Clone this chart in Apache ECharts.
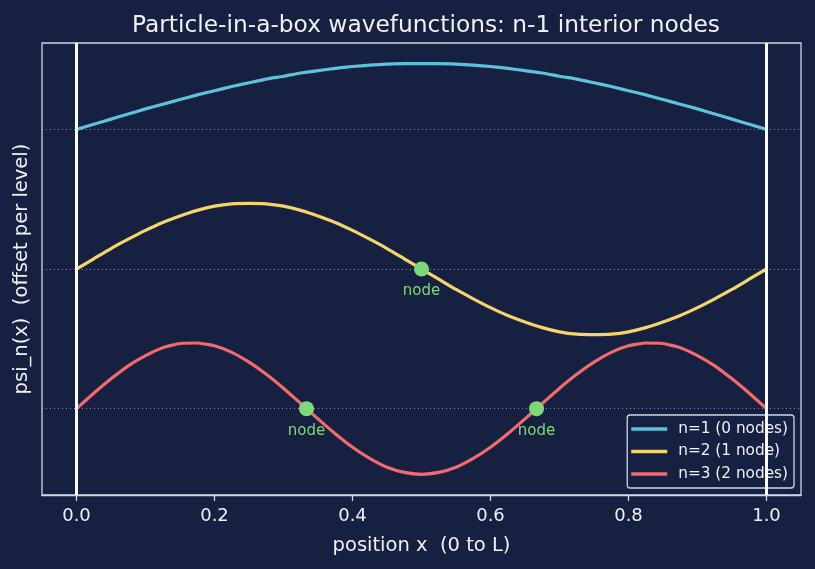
<!DOCTYPE html>
<html>
<head>
<meta charset="utf-8">
<script src="https://cdn.jsdelivr.net/npm/echarts@6/dist/echarts.min.js"></script>
<style>
  html, body { margin: 0; padding: 0; background: #162040; }
  #chart { width: 815px; height: 569px; }
</style>
</head>
<body>
<div id="chart"></div>
<script>
// positions along the box, read at steps of 0.025
const xs = [0, 0.025, 0.05, 0.075, 0.1, 0.125, 0.15, 0.175, 0.2, 0.225,
            0.25, 0.275, 0.3, 0.325, 0.35, 0.375, 0.4, 0.425, 0.45, 0.475,
            0.5, 0.525, 0.55, 0.575, 0.6, 0.625, 0.65, 0.675, 0.7, 0.725,
            0.75, 0.775, 0.8, 0.825, 0.85, 0.875, 0.9, 0.925, 0.95, 0.975, 1.0]

// offset wavefunction values (baseline + psi)
const psi1 = [9.00, 9.11, 9.22, 9.33, 9.44, 9.54, 9.64, 9.74, 9.83, 9.92,
              10.00, 10.08, 10.14, 10.21, 10.26, 10.31, 10.35, 10.38, 10.40, 10.41,
              10.41, 10.41, 10.40, 10.38, 10.35, 10.31, 10.26, 10.21, 10.14, 10.08,
              10.00, 9.92, 9.83, 9.74, 9.64, 9.54, 9.44, 9.33, 9.22, 9.11, 9.00]
const psi2 = [6.00, 6.22, 6.44, 6.64, 6.83, 7.00, 7.14, 7.26, 7.35, 7.40,
              7.41, 7.40, 7.35, 7.26, 7.14, 7.00, 6.83, 6.64, 6.44, 6.22,
              6.00, 5.78, 5.56, 5.36, 5.17, 5.00, 4.86, 4.74, 4.65, 4.60,
              4.59, 4.60, 4.65, 4.74, 4.86, 5.00, 5.17, 5.36, 5.56, 5.78, 6.00]
const psi3 = [3.00, 3.33, 3.64, 3.92, 4.14, 4.31, 4.40, 4.41, 4.35, 4.21,
              4.00, 3.74, 3.44, 3.11, 2.78, 2.46, 2.17, 1.93, 1.74, 1.63,
              1.59, 1.63, 1.74, 1.93, 2.17, 2.46, 2.78, 3.11, 3.44, 3.74,
              4.00, 4.21, 4.35, 4.41, 4.40, 4.31, 4.14, 3.92, 3.64, 3.33, 3.00]

const seriesNames = ['n=1 (0 nodes)', 'n=2 (1 node)', 'n=3 (2 nodes)']
const seriesColors = ['#5bc4dc', '#f6d46c', '#f26a6c']
const baselines = [9, 6, 3]

const nodeX = [0.5, 0.3333, 0.6667]
const nodeY = [6, 3, 3]

const xTicks = [0, 0.2, 0.4, 0.6, 0.8, 1.0]
const walls = [0, 1]

const frameColor = '#cdd5e6'
const textColor = '#eef1f7'
const nodeColor = '#7ed87a'
const font = 'DejaVu Sans'

const pairs = (ys) => xs.map((x, i) => [x, ys[i]])

var myChart = echarts.init(document.getElementById('chart'))

const curves = [psi1, psi2, psi3].map((ys, i) => ({
  name: seriesNames[i],
  type: 'line',
  data: pairs(ys),
  smooth: 0.15,
  showSymbol: false,
  symbol: 'none',
  lineStyle: { color: seriesColors[i], width: 3.2, join: 'round' },
  itemStyle: { color: seriesColors[i] },
  z: 3
}))

myChart.setOption({
  backgroundColor: '#162040',
  animation: false,
  title: {
    text: 'Particle-in-a-box wavefunctions: n-1 interior nodes',
    left: 421,
    textAlign: 'center',
    top: 9,
    textStyle: {
      color: textColor,
      fontFamily: font,
      fontSize: 23.3,
      fontWeight: 'normal'
    }
  },
  grid: {
    left: 42,
    right: 14,
    top: 43,
    bottom: 74,
    show: true,
    borderColor: frameColor,
    borderWidth: 1.3,
    backgroundColor: 'transparent'
  },
  legend: {
    orient: 'vertical',
    right: 21,
    bottom: 81,
    data: seriesNames.map(n => ({ name: n, icon: 'rect' })),
    itemWidth: 36,
    itemHeight: 3.5,
    itemGap: 6.5,
    padding: [6, 6, 6, 4],
    backgroundColor: 'rgba(22,32,64,0.8)',
    borderColor: frameColor,
    borderWidth: 1.3,
    borderRadius: 3,
    textStyle: {
      color: textColor,
      fontFamily: font,
      fontSize: 15.3,
      lineHeight: 16,
      padding: [0, 0, 0, 6]
    }
  },
  xAxis: {
    type: 'value',
    min: -0.05,
    max: 1.05,
    name: 'position x  (0 to L)',
    nameLocation: 'middle',
    nameGap: 41,
    nameTextStyle: { color: textColor, fontFamily: font, fontSize: 19.5 },
    axisLine: { show: true, onZero: false, lineStyle: { color: frameColor, width: 1.3 } },
    axisTick: { show: true, length: 6, customValues: xTicks, lineStyle: { color: frameColor, width: 1.3 } },
    axisLabel: {
      customValues: xTicks,
      formatter: v => v.toFixed(1),
      color: textColor,
      fontFamily: font,
      fontSize: 18,
      margin: 12
    },
    splitLine: { show: false }
  },
  yAxis: {
    type: 'value',
    min: 1.145,
    max: 10.855,
    name: 'psi_n(x)  (offset per level)',
    nameLocation: 'middle',
    nameGap: 10,
    nameTextStyle: { color: textColor, fontFamily: font, fontSize: 19.5 },
    axisLine: { show: true, lineStyle: { color: frameColor, width: 1.3 } },
    axisTick: { show: false },
    axisLabel: { show: false },
    splitLine: { show: false }
  },
  series: [
    {
      name: 'baselines',
      type: 'line',
      data: [],
      z: 1,
      markLine: {
        silent: true,
        symbol: 'none',
        label: { show: false },
        lineStyle: { color: 'rgba(190,200,225,0.7)', width: 1, type: [1, 3] },
        data: baselines.map(b => ({ yAxis: b }))
      }
    },
    ...curves,
    {
      name: 'walls',
      type: 'line',
      data: [],
      z: 5,
      markLine: {
        silent: true,
        symbol: 'none',
        label: { show: false },
        lineStyle: { color: '#ffffff', width: 3, type: 'solid' },
        data: walls.map(w => ({ xAxis: w }))
      }
    },
    {
      name: 'nodes',
      type: 'scatter',
      data: nodeX.map((x, i) => [x, nodeY[i]]),
      symbolSize: 15,
      itemStyle: { color: nodeColor, opacity: 1 },
      z: 6,
      label: {
        show: true,
        formatter: 'node',
        position: 'bottom',
        distance: 7,
        color: nodeColor,
        fontFamily: font,
        fontSize: 15
      }
    }
  ]
})
</script>
</body>
</html>
